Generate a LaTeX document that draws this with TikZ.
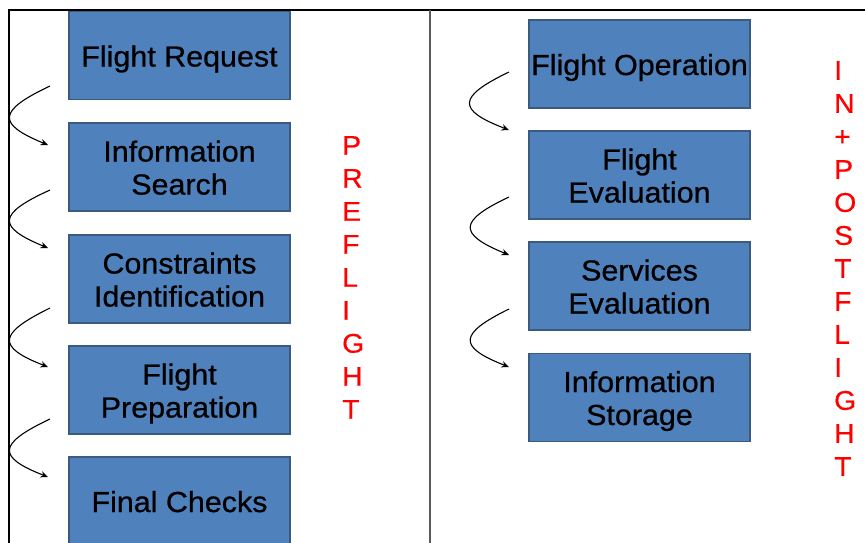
\documentclass[tikz,border=0pt]{standalone}
\usepackage{fontspec}
\setmainfont{Liberation Sans}
\newfontfamily\stagefont[FakeStretch=1.05,FakeBold=0.7]{Liberation Sans}
\newfontfamily\phasefont[FakeStretch=1.05,FakeBold=0.5]{Liberation Sans}
\usetikzlibrary{arrows.meta}
\definecolor{boxblue}{HTML}{4F81BD}
\definecolor{boxedge}{HTML}{3A5A80}
\newcommand\boxline[1]{\rule[-3pt]{0pt}{28pt}\smash{#1}}
\tikzset{
  stagebox/.style={draw=boxedge, line width=1.5pt, fill=boxblue, minimum width=221pt, minimum height=88pt, inner sep=0pt, align=center, font=\stagefont\fontsize{29}{33}\selectfont, text=black},
  phaselabel/.style={align=left, anchor=west, text=red, inner sep=0pt, font=\phasefont\fontsize{27}{33}\selectfont},
  flowarrow/.style={draw=black, line width=1.1pt, -{Stealth[length=7.5pt,width=6.5pt]}}
}
\begin{document}
\begin{tikzpicture}[x=1pt,y=-1pt]
\useasboundingbox (0,0) rectangle (865,542);
\clip (0,0) rectangle (865,542);
\fill[white] (0,0) rectangle (865,542);
% frame
\draw[line width=1.6pt, black] (9,550) -- (9,10) -- (870,10);
\draw[line width=2pt, black!65] (430,10) -- (430,550);
% left column
\node[stagebox] (fr) at (179.5,55.5) {\boxline{Flight Request}};
\node[stagebox] (is) at (179.5,167) {\boxline{Information}\\\boxline{Search}};
\node[stagebox] (ci) at (179.5,279) {\boxline{Constraints}\\\boxline{Identification}};
\node[stagebox] (fp) at (179.5,390) {\boxline{Flight}\\\boxline{Preparation}};
\node[stagebox] (fc) at (179.5,501) {\boxline{Final Checks}};
% right column
\node[stagebox] (fo) at (639.5,64) {\boxline{Flight Operation}};
\node[stagebox] (fe) at (639.5,175) {\boxline{Flight}\\\boxline{Evaluation}};
\node[stagebox] (se) at (639.5,286) {\boxline{Services}\\\boxline{Evaluation}};
\node[stagebox] (st) at (639.5,397.5) {\boxline{Information}\\\boxline{Storage}};
% phase labels
\node[phaselabel] (pre) at (342,277.4) {P\\R\\E\\F\\L\\I\\G\\H\\T};
\node[phaselabel] (post) at (834,268.5) {I\\N\\+\\P\\O\\S\\T\\F\\L\\I\\G\\H\\T};
% arrow end points
\coordinate (l1s) at (50,86);  \coordinate (l1e) at (48,145);
\coordinate (l2s) at (50,190); \coordinate (l2e) at (48,248);
\coordinate (l3s) at (50,308); \coordinate (l3e) at (48,367);
\coordinate (l4s) at (50,419); \coordinate (l4e) at (48,477);
\coordinate (r1s) at (509,72);  \coordinate (r1e) at (509,130);
\coordinate (r2s) at (509,197); \coordinate (r2e) at (509,255);
\coordinate (r3s) at (509,309); \coordinate (r3e) at (509,367);
\draw[flowarrow] (l1s) .. controls (-3,111) and (-3,124) .. (l1e);
\draw[flowarrow] (l2s) .. controls (-3,214) and (-3,227) .. (l2e);
\draw[flowarrow] (l3s) .. controls (-3,334) and (-3,347) .. (l3e);
\draw[flowarrow] (l4s) .. controls (-3,444) and (-3,457) .. (l4e);
\draw[flowarrow] (r1s) .. controls (457,97) and (457,110) .. (r1e);
\draw[flowarrow] (r2s) .. controls (458,221) and (458,234) .. (r2e);
\draw[flowarrow] (r3s) .. controls (458,334) and (458,347) .. (r3e);
\end{tikzpicture}
\end{document}
